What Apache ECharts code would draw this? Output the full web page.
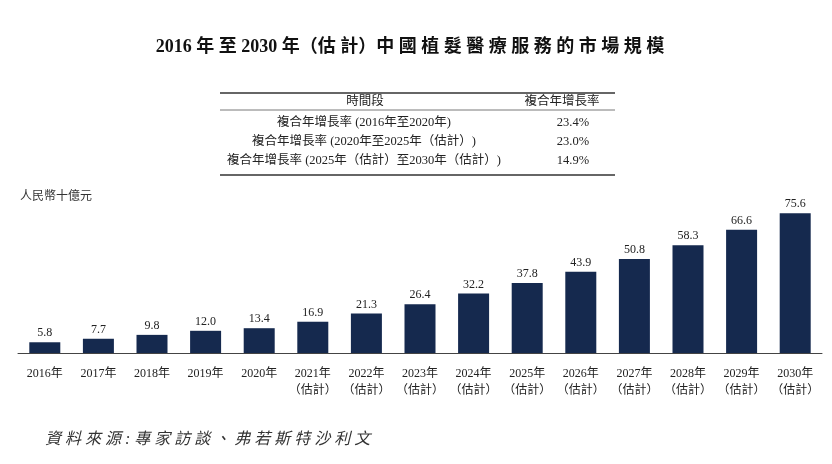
<!DOCTYPE html>
<html><head><meta charset="utf-8">
<script src="https://cdn.jsdelivr.net/npm/echarts@6/dist/echarts.min.js"></script>
<style>html,body{margin:0;padding:0;background:#fff}#c{width:832px;height:464px}</style>
</head><body><div id="c"></div>
<script>
const years = ['2016年','2017年','2018年','2019年','2020年','2021年\n（估計）','2022年\n（估計）','2023年\n（估計）','2024年\n（估計）','2025年\n（估計）','2026年\n（估計）','2027年\n（估計）','2028年\n（估計）','2029年\n（估計）','2030年\n（估計）'];
const marketSize = [5.8,7.7,9.8,12.0,13.4,16.9,21.3,26.4,32.2,37.8,43.9,50.8,58.3,66.6,75.6];
const tablePeriods = ['複合年增長率 (2016年至2020年)','複合年增長率 (2020年至2025年（估計）)','複合年增長率 (2025年（估計）至2030年（估計）)'];
const tableCagr = ['23.4%','23.0%','14.9%'];
const titleText = '2016 年 至 2030 年（估 計）中 國 植 髮 醫 療 服 務 的 市 場 規 模';
const unitText = '人民幣十億元';
const sourceText = '資 料 來 源 : 專 家 訪 談 、 弗 若 斯 特 沙 利 文';

const FONT = '"Liberation Serif","Noto Sans CJK TC",serif';
const chart = echarts.init(document.getElementById('c'));
const graphics = [
  {type:'text', x:410, y:47, style:{text:titleText, font:'bold 18px '+FONT, fill:'#111', align:'center', verticalAlign:'middle'}},
  {type:'line', shape:{x1:220,y1:93,x2:615,y2:93}, style:{stroke:'#333',lineWidth:1.3}},
  {type:'line', shape:{x1:220,y1:110,x2:615,y2:110}, style:{stroke:'#555',lineWidth:0.8}},
  {type:'line', shape:{x1:220,y1:175,x2:615,y2:175}, style:{stroke:'#333',lineWidth:1.3}},
  {type:'text', x:365, y:102, style:{text:'時間段', font:'12.5px '+FONT, fill:'#222', align:'center', verticalAlign:'middle'}},
  {type:'text', x:562, y:102, style:{text:'複合年增長率', font:'12.5px '+FONT, fill:'#222', align:'center', verticalAlign:'middle'}},
  {type:'text', x:20, y:197, style:{text:unitText, font:'12px '+FONT, fill:'#333', verticalAlign:'middle'}},
  {type:'text', x:45, y:440, style:{text:sourceText, font:'italic 16px '+FONT, fill:'#333', verticalAlign:'middle'}}
];
tablePeriods.forEach((t,i)=>{
  graphics.push({type:'text', x:364, y:123+i*19, style:{text:t, font:'12.5px '+FONT, fill:'#222', align:'center', verticalAlign:'middle'}});
  graphics.push({type:'text', x:573, y:123+i*19, style:{text:tableCagr[i], font:'12.5px '+FONT, fill:'#222', align:'center', verticalAlign:'middle'}});
});
chart.setOption({
  animation:false,
  grid:{left:18,right:10,top:205,bottom:111},
  xAxis:{type:'category', data:years,
    axisLine:{lineStyle:{color:'#444',width:1}}, axisTick:{show:false},
    axisLabel:{interval:0, margin:12, fontSize:12, lineHeight:17, color:'#222', fontFamily:FONT}},
  yAxis:{type:'value', min:0, max:80, show:false, splitLine:{show:false}},
  series:[{type:'bar', data:marketSize, barWidth:31, itemStyle:{color:'#15294e'},
    label:{show:true, position:'top', distance:3, fontSize:12, color:'#222', fontFamily:FONT,
      formatter:p=>p.value.toFixed(1)}}],
  graphic:graphics
});
</script></body></html>
